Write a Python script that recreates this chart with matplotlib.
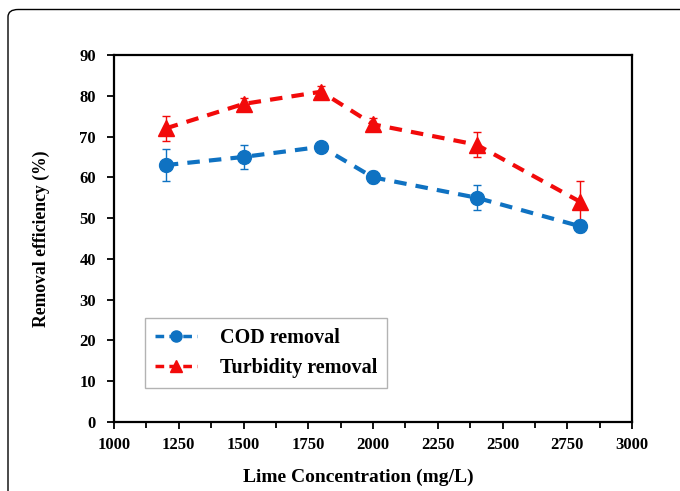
import matplotlib
matplotlib.use("Agg")
import matplotlib.pyplot as plt
from matplotlib.patches import FancyBboxPatch
from matplotlib.lines import Line2D
from matplotlib.ticker import MultipleLocator

lime_conc = [1200, 1500, 1800, 2000, 2400, 2800]
cod_removal = [63, 65, 67.5, 60, 55, 48]
cod_err = [4, 3, 1, 1.5, 3, 1.5]
turbidity_removal = [72, 78, 81, 73, 68, 54]
turbidity_err = [3, 1.5, 1.5, 1.5, 3, 5]

W, H = 680, 491
fig = plt.figure(figsize=(W / 100, H / 100), dpi=100)

# rounded frame around the figure
frame = FancyBboxPatch((8 / W, -0.2), (W + 30) / W, (H - 9.5) / H + 0.2,
                       boxstyle="round,pad=0,rounding_size=0.015",
                       transform=fig.transFigure, fill=False,
                       edgecolor="black", linewidth=1.0, clip_on=False)
fig.patches.append(frame)

ax = fig.add_axes([114 / W, 1 - 422 / H, (632 - 114) / W, (422 - 55) / H])

serif = "Liberation Serif"
blue = "#0F72C2"
red = "#F20A0A"
dash = (0, (3, 2.2))

ax.errorbar(lime_conc, cod_removal, yerr=cod_err, color=blue, linestyle=dash,
            linewidth=3, marker="o", markersize=10, capsize=3, elinewidth=1,
            ecolor=blue, capthick=1)
ax.errorbar(lime_conc, turbidity_removal, yerr=turbidity_err, color=red,
            linestyle=dash, linewidth=3, marker="^", markersize=11,
            capsize=3, elinewidth=1, ecolor=red, capthick=1)

ax.set_xlim(1000, 3000)
ax.set_ylim(0, 90)
ax.xaxis.set_major_locator(MultipleLocator(250))
ax.xaxis.set_minor_locator(MultipleLocator(125))
ax.yaxis.set_major_locator(MultipleLocator(10))
ax.tick_params(axis="both", which="major", direction="out", length=5, width=1.3,
               labelsize=12)
ax.tick_params(axis="x", which="major", pad=6)
ax.tick_params(axis="y", which="major", pad=8)
ax.tick_params(axis="x", which="minor", direction="out", length=4, width=1.3)
for lbl in ax.get_xticklabels() + ax.get_yticklabels():
    lbl.set_fontfamily(serif)
    lbl.set_fontweight("bold")
for s in ax.spines.values():
    s.set_linewidth(1.6)

ax.set_xlabel("Lime Concentration (mg/L)", fontsize=14, family=serif, weight="bold")
ax.xaxis.set_label_coords(0.471, -0.128)
ax.set_ylabel("Removal efficiency (%)", fontsize=12.7, family=serif, weight="bold")
ax.yaxis.set_label_coords(-0.124, 0.5)

handles = [
    Line2D([], [], color=blue, linestyle=(0, (2.5, 1.5)), linewidth=2.5,
           marker="o", markersize=8),
    Line2D([], [], color=red, linestyle=(0, (2.5, 1.5)), linewidth=2.5,
           marker="^", markersize=8),
]
leg = ax.legend(handles, ["COD removal", "Turbidity removal"],
                loc="lower left", bbox_to_anchor=(31 / 518, 34 / 367),
                prop={"family": serif, "weight": "bold", "size": 14.5},
                frameon=True, fancybox=False, edgecolor="#A0A0A0",
                handlelength=2.1, borderpad=0.5, labelspacing=0.5,
                handletextpad=1.1, borderaxespad=0)
leg.get_frame().set_linewidth(1.0)

fig.savefig("out.png", dpi=100)
